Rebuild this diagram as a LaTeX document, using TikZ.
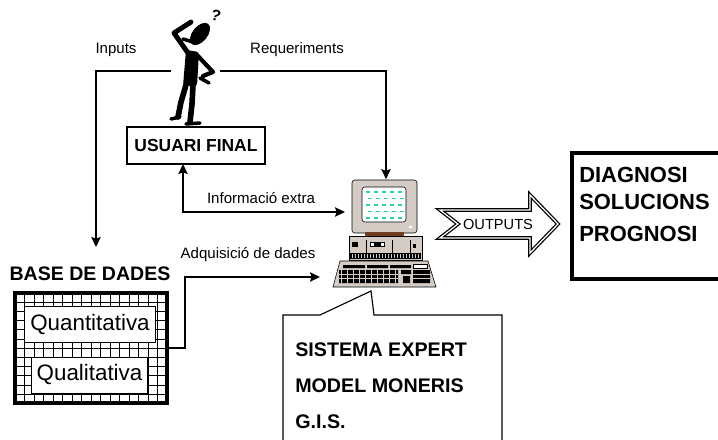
\documentclass[tikz,border=0pt]{standalone}
\usepackage{fontspec}
\setmainfont{Liberation Sans}
\usepackage{tikz}
\usetikzlibrary{arrows.meta,positioning}
\definecolor{pcbody}{RGB}{212,204,196}
\definecolor{pcscreen}{RGB}{40,214,170}
\definecolor{pcstand}{RGB}{110,62,30}

\begin{document}
\begin{tikzpicture}[x=0.025cm,y=-0.025cm,
  lbl/.style={font=\fontsize{10.7}{12}\selectfont,inner sep=0},
  hd/.style={font=\bfseries\fontsize{14}{16}\selectfont,inner sep=0,anchor=west},
  big/.style={font=\bfseries\fontsize{15.6}{18}\selectfont,inner sep=0,anchor=west},
  ar/.style={-{Stealth[length=7pt,width=6.5pt,inset=1pt]},line width=1.9pt},
  ar2/.style={{Stealth[length=7pt,width=6.5pt,inset=1pt]}-{Stealth[length=7pt,width=6.5pt,inset=1pt]},line width=1.9pt},
  limb/.style={line width=#1,line cap=round,line join=round}]
\useasboundingbox (0,0) rectangle (718,440);

% the user, scratching his head
\fill[rotate around={51:(200,34)}] (200,34) ellipse [x radius=13, y radius=7.5];
\fill[rounded corners=2] (186,50) -- (199,52) -- (197,86) -- (183,86) -- cycle;
\draw[limb=3.5pt] (188,53) -- (174,33) -- (191,22);
\draw[limb=2.5pt] (183,39) -- (193,42);
\draw[limb=3pt] (197,55) -- (213,72) -- (203,76);
\draw[limb=2.5pt] (200,78) -- (209,83);
\draw[limb=4pt] (186,85) -- (181,102) -- (178,117);
\draw[limb=2.5pt] (171,119) -- (180,117);
\draw[limb=4pt] (193,85) -- (192,104) -- (190,122);
\draw[limb=2.5pt] (186,124) -- (200,123);
\node[font=\bfseries\fontsize{11}{12}\selectfont,rotate=-15,inner sep=0] (qm) at (216,16) {?};
\coordinate (ul) at (171,71);
\coordinate (ur) at (220,71);

\node[lbl] (inp) at (116,50) {Inputs};
\node[lbl] (req) at (297,50) {Requeriments};
\node[draw,line width=1pt,minimum width=3.45cm,minimum height=0.92cm,
  font=\bfseries\fontsize{12.4}{14}\selectfont] (uf) at (196,145.5) {USUARI FINAL};
\coordinate (ufin) at (183,164);

% data base with its grid
\node[font=\bfseries\fontsize{13.9}{16}\selectfont,inner sep=0] (bdt) at (90,274) {BASE DE DADES};
\coordinate (bdin) at (96,247);
\foreach \i in {1,...,15} \draw[line width=0.5pt] (15+\i*9.5,293) -- ++(0,110);
\foreach \j in {1,...,11} \draw[line width=0.5pt] (15,293+\j*9.2) -- ++(152,0);
\node[draw,line width=2.8pt,minimum width=3.8cm,minimum height=2.75cm] (bd) at (91,348) {};
\node[draw,fill=white,line width=0.7pt,minimum width=3.25cm,minimum height=0.88cm,
  font=\fontsize{15.9}{18}\selectfont] (qt) at (90,324.5) {Quantitativa};
\node[draw,fill=white,line width=0.7pt,minimum width=2.88cm,minimum height=0.9cm,
  font=\fontsize{15.9}{18}\selectfont] (ql) at (89.5,375) {Qualitativa};

% computer
\node[minimum width=2.65cm,minimum height=2.7cm,inner sep=0] (pc) at (386,233.5) {};
\draw[fill=pcbody,rounded corners=2] (352,180) rectangle (417,233);
\draw[fill=white,rounded corners=2] (362,187) rectangle (406,222);
\foreach \r in {0,...,4}
  \foreach \c in {0,...,4}
    \draw[pcscreen,line width=1pt] ({366+\c*8+mod(\r,2)*2},{192+\r*6.5}) -- ++(4,0);
\fill[white] (409,226) rectangle (412,228);
\fill[pcstand] (365,232) rectangle (404,238);
\draw[fill=pcbody] (349,236) rectangle (422,260);
\draw (366,240) -- (366,253) (392,240) -- (392,253) (410,240) -- (410,253);
\fill (352,242) rectangle (358,247);
\draw[fill=white] (370,242) rectangle (384,246);
\fill (374,243) rectangle (381,245.5);
\fill (413,244) rectangle (416,248);
\fill (350,253) rectangle (421,259);
\foreach \k in {0,...,22} \fill[pcbody] (352+\k*3,254) rectangle ++(1,4);
\draw[fill=pcbody] (340,261) -- (428,261) -- (436,287) -- (333,287) -- cycle;
\fill (343,265) rectangle (365,268) (367,265) rectangle (388,268) (390,265) rectangle (411,268);
\draw[fill=white] (413,264.5) rectangle (427,268);
\fill (339,270) rectangle (398,283) (401,270) rectangle (411,274) (403,276) rectangle (410,283)
  (413,270) rectangle (430,283);
\foreach \k in {0,...,9} \draw[pcbody,line width=0.4pt] (341+\k*6,270) -- ++(0,13);
\draw[pcbody,line width=0.4pt] (339,274) -- (398,274) (339,278.5) -- (398,278.5)
  (413,274) -- (430,274) (413,278.5) -- (430,278.5);
\coordinate (pcA) at (345,212);
\coordinate (pcB) at (320,277);

% connections
\draw[ar] (ul) -| (bdin);
\draw[ar] (ur) -| (pc.north);
\draw[ar2] (ufin) |- (pcA);
\node[lbl] (ext) at (261,198) {Informació extra};
\draw[ar] (bd.east) -- ++(16,0) |- (pcB);
\node[lbl] (adq) at (248,255) {Adquisició de dades};

% outputs arrow
\draw[line width=0.9pt,double=white,double distance=0.9pt,line join=miter,fill=white]
  (440,210) -- (530,210) -- (530,195) -- (558,224) -- (530,253) -- (530,238) -- (440,238)
  -- (458,224) -- cycle;
\node[font=\fontsize{10.4}{12}\selectfont,inner sep=0] (outs) at (498,224) {OUTPUTS};

% results
\draw[line width=2.2pt] (730,153) -- (572,153) -- (572,279) -- (730,279);
\node[big] (dg) at (579,175) {DIAGNOSI};
\node[big] (sol) at (579,202) {SOLUCIONS};
\node[big] (prg) at (579,234) {PROGNOSI};

% callout for the expert system
\draw[line width=0.8pt,line join=miter] (283,445) -- (283,315) -- (320,315) -- (371,291)
  -- (374,315) -- (502,315) -- (502,445);
\node[hd] (se) at (295,350) {SISTEMA EXPERT};
\node[hd] (mm) at (295,386) {MODEL MONERIS};
\node[hd] (gis) at (295,422) {G.I.S.};
\end{tikzpicture}
\end{document}
